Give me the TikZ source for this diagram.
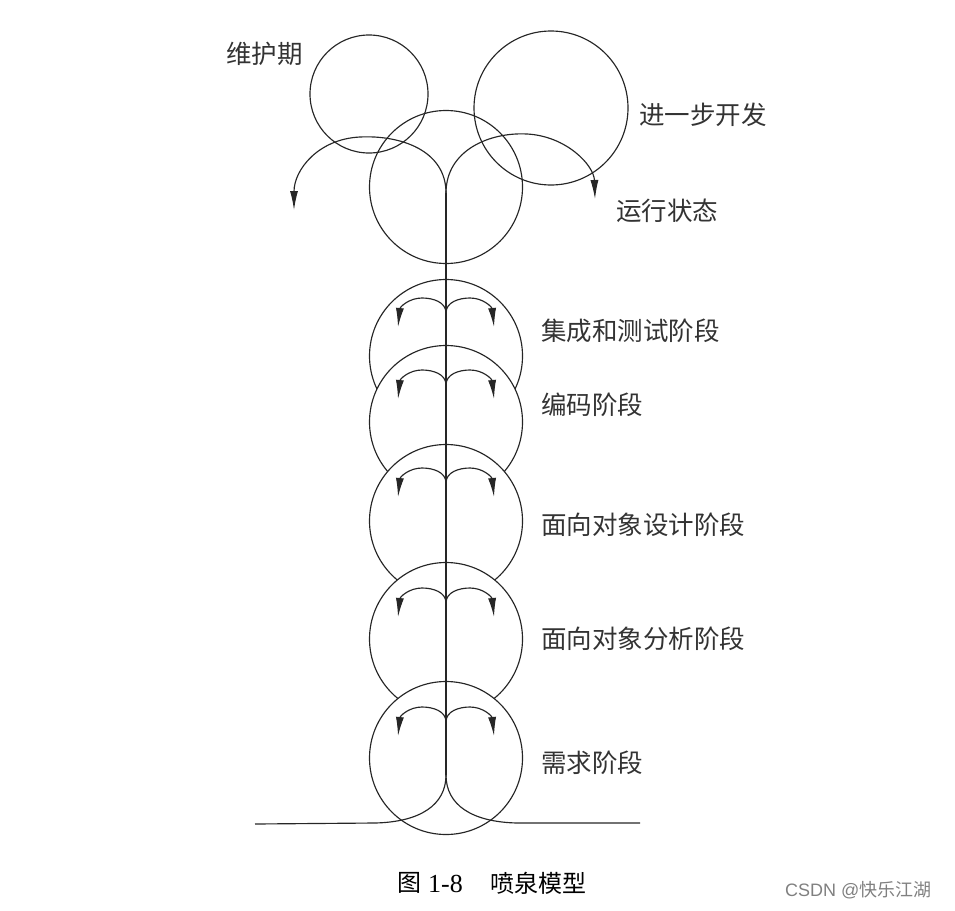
\documentclass[tikz,border=0pt]{standalone}
\usepackage{fontspec}
\setmainfont{Liberation Serif}
\newfontfamily\cjk{Noto Sans CJK SC}
\newfontfamily\wmfont{Liberation Sans}
\usetikzlibrary{arrows.meta}
\tikzset{
  ln/.style={line width=1.15pt, draw=black!85},
  stage/.style={ln, fill=white},
  arr/.style={ln, -{Latex[length=19pt,width=8pt]}},
  lbl/.style={anchor=west, inner sep=0pt, font=\cjk\fontsize{25.5}{30}\selectfont, text=black!80},
}
\begin{document}
\begin{tikzpicture}[x=1pt,y=-1pt]
\useasboundingbox (0,0) rectangle (955,910);
% top circles
\draw[ln] (369,94) circle[radius=59pt];
\draw[ln] (551,108) circle[radius=77pt];
\draw[ln] (446,187) circle[radius=76.5pt];
% stage circles, lower ones cover upper ones
\foreach \c in {356,422,521,639,758} {
  \draw[stage] (446,\c) circle[radius=76.5pt];
}
% junctions
\coordinate (jtop) at (446,193);
\coordinate (jbot) at (446,775);
\coordinate (baseL) at (255,824);
\coordinate (baseR) at (640,823);
% trunk
\draw[ln] (jtop) -- (jbot);
% base
\draw[ln] (jbot) .. controls (446,805) and (420,822) .. (375,823) -- (baseL);
\draw[ln] (jbot) .. controls (446,805) and (472,822) .. (517,823) -- (baseR);
% top arrows
\draw[arr] (jtop) .. controls (446,150) and (400,135) .. (360,137) .. controls (318,139) and (294,170) .. (294,210);
\draw[arr] (jtop) .. controls (446,150) and (490,132) .. (527,134) .. controls (566,136) and (594,165) .. (595,199);
% small arrows in each stage
\foreach \j/\n in {313/a,385/b,483/c,603/d,722/e} {
  \coordinate (j\n) at (446,\j);
  \draw[arr] (j\n) .. controls (446,\j-11) and (433,\j-15) .. (422,\j-15) .. controls (409,\j-15) and (400,\j-6) .. (398,\j+14);
  \draw[arr] (j\n) .. controls (446,\j-11) and (459,\j-15) .. (470,\j-15) .. controls (483,\j-15) and (492,\j-6) .. (494,\j+14);
}
% labels
\node[lbl] (l1) at (226,54) {维护期};
\node[lbl] (l2) at (639,115) {进一步开发};
\node[lbl] (l3) at (616,211) {运行状态};
\node[lbl] (l4) at (541,331) {集成和测试阶段};
\node[lbl] (l5) at (541,405) {编码阶段};
\node[lbl] (l6) at (541,525) {面向对象设计阶段};
\node[lbl] (l7) at (541,639) {面向对象分析阶段};
\node[lbl] (l8) at (541,763) {需求阶段};
% caption
\node[anchor=west, inner sep=0pt, font=\cjk\fontsize{24}{28}\selectfont] (cap1) at (397,883) {图};
\node[anchor=west, inner sep=0pt, font=\fontsize{26}{30}\selectfont] (cap2) at (428,884) {1-8};
\node[anchor=west, inner sep=0pt, font=\cjk\fontsize{24}{28}\selectfont] (cap3) at (490,883) {喷泉模型};
% watermark
\node[anchor=west, inner sep=0pt, text=black!50, font=\wmfont\fontsize{18}{22}\selectfont] (wm) at (785,890) {CSDN @{\cjk 快乐江湖}};
\end{tikzpicture}
\end{document}
